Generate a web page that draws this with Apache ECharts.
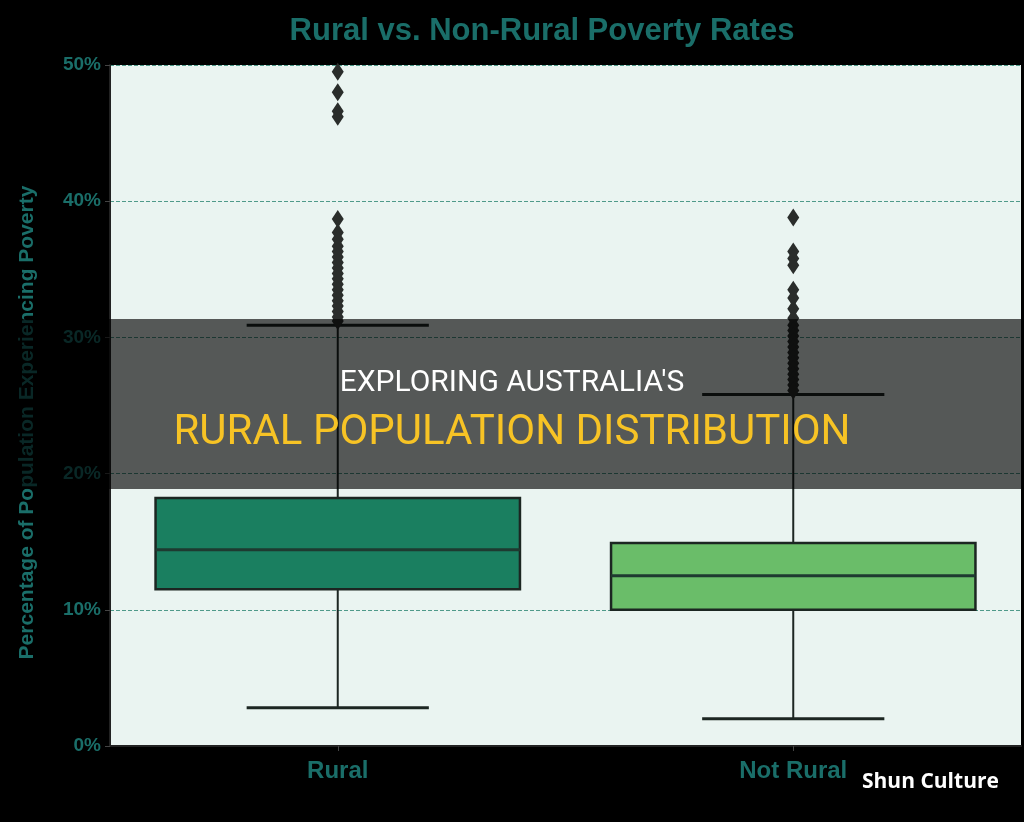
<!DOCTYPE html>
<html>
<head>
<meta charset="utf-8">
<script src="https://cdn.jsdelivr.net/npm/echarts@6/dist/echarts.min.js"></script>
<style>
html,body{margin:0;padding:0;background:#000;}
#chart{width:1024px;height:822px;}
</style>
</head>
<body>
<div id="chart"></div>
<script>
var categories = ['Rural', 'Not Rural'];
// [lowWhisker, Q1, median, Q3, highWhisker]
var ruralStats = [2.8, 11.5, 14.4, 18.2, 30.9];
var notRuralStats = [2.0, 10.0, 12.5, 14.9, 25.8];
var ruralOutliers = [49.5, 48.0, 46.6, 46.2, 38.7, 37.7, 37.2, 36.7, 36.3, 35.9, 35.5, 35.1, 34.7, 34.3, 33.9, 33.5, 33.1, 32.7, 32.3, 31.9, 31.5, 31.2];
var notRuralOutliers = [38.8, 36.3, 35.8, 35.3, 33.5, 32.9, 32.1, 31.4, 30.9, 30.5, 30.1, 29.7, 29.3, 28.9, 28.5, 28.1, 27.7, 27.3, 26.9, 26.5, 26.1];
var yTicks = [0, 10, 20, 30, 40, 50];
var boxColors = ['#1a7f60', '#6abd69'];

var boxData = [[0].concat(ruralStats), [1].concat(notRuralStats)];
var outlierData = [];
ruralOutliers.forEach(function(v){ outlierData.push([0, v]); });
notRuralOutliers.forEach(function(v){ outlierData.push([1, v]); });

var teal = '#1a6e69';
var chart = echarts.init(document.getElementById('chart'));
chart.setOption({
  backgroundColor: '#000',
  animation: false,
  title: {
    text: 'Rural vs. Non-Rural Poverty Rates',
    left: 537, top: 11, textAlign: 'center',
    textStyle: {color: teal, fontSize: 31, fontWeight: 900, fontFamily: 'Liberation Sans'}
  },
  grid: {left: 110, right: 3, top: 65, bottom: 76, show: true, backgroundColor: '#eaf4f1', borderWidth: 0},
  xAxis: {
    type: 'category', data: categories,
    axisLine: {lineStyle: {color: '#222', width: 2}},
    axisTick: {show: true, alignWithLabel: true, length: 5, lineStyle: {color: '#444'}},
    axisLabel: {color: teal, fontSize: 24, fontWeight: 'bold', fontFamily: 'Liberation Sans', margin: 13},
    splitLine: {show: false}
  },
  yAxis: {
    type: 'value', min: yTicks[0], max: yTicks[yTicks.length-1], interval: 10,
    name: 'Percentage of Population Experiencing Poverty',
    nameLocation: 'middle', nameGap: 72, nameRotate: 90,
    nameTextStyle: {color: teal, fontSize: 21, fontWeight: 'bold', fontFamily: 'Liberation Sans', padding: [0, 34, 0, 0]},
    axisLine: {show: true, lineStyle: {color: '#222', width: 2}},
    axisTick: {show: true, length: 5, lineStyle: {color: '#444'}},
    axisLabel: {color: teal, fontSize: 19, fontWeight: 'bold', fontFamily: 'Liberation Sans', margin: 9,
      formatter: function(v){ return v + '%'; }},
    splitLine: {show: true, lineStyle: {color: '#4f9a8a', type: 'dashed', width: 1}}
  },
  series: [
    {
      type: 'custom',
      data: boxData,
      z: 3,
      renderItem: function(params, api){
        var idx = api.value(0);
        var lo = api.coord([idx, api.value(1)]);
        var q1 = api.coord([idx, api.value(2)]);
        var med = api.coord([idx, api.value(3)]);
        var q3 = api.coord([idx, api.value(4)]);
        var hi = api.coord([idx, api.value(5)]);
        var band = api.size([1, 0])[0];
        var bw = band * 0.8, cw = band * 0.4;
        var cx = lo[0];
        var stroke = '#1c2622';
        return {
          type: 'group',
          children: [
            {type: 'line', shape: {x1: cx, y1: q3[1], x2: cx, y2: hi[1]}, style: {stroke: stroke, lineWidth: 2}},
            {type: 'line', shape: {x1: cx, y1: q1[1], x2: cx, y2: lo[1]}, style: {stroke: stroke, lineWidth: 2}},
            {type: 'line', shape: {x1: cx - cw/2, y1: hi[1], x2: cx + cw/2, y2: hi[1]}, style: {stroke: stroke, lineWidth: 3}},
            {type: 'line', shape: {x1: cx - cw/2, y1: lo[1], x2: cx + cw/2, y2: lo[1]}, style: {stroke: stroke, lineWidth: 3}},
            {type: 'rect', shape: {x: cx - bw/2, y: q3[1], width: bw, height: q1[1] - q3[1]},
              style: {fill: boxColors[idx], stroke: stroke, lineWidth: 2.5}},
            {type: 'line', shape: {x1: cx - bw/2, y1: med[1], x2: cx + bw/2, y2: med[1]}, style: {stroke: '#1e3a30', lineWidth: 3}}
          ]
        };
      }
    },
    {
      type: 'scatter',
      data: outlierData,
      symbol: 'diamond',
      symbolSize: [12, 18],
      z: 4,
      itemStyle: {color: '#2a2d2b', opacity: 1}
    }
  ],
  graphic: [
    {type: 'rect', left: 0, top: 319, z: 100, shape: {width: 1024, height: 170}, style: {fill: 'rgba(0,0,0,0.64)'}},
    {type: 'text', z: 101, left: 'center', top: 368, style: {text: "EXPLORING AUSTRALIA'S", fill: '#ffffff', font: '30px Roboto, sans-serif'}},
    {type: 'text', z: 101, left: 'center', top: 412, style: {text: 'RURAL POPULATION DISTRIBUTION', fill: '#f7c325', font: '42px Roboto, sans-serif'}},
    {type: 'text', z: 101, left: 862, top: 772, style: {text: 'Shun Culture', fill: '#ffffff', font: 'bold 21px "Open Sans", sans-serif'}}
  ]
});
</script>
</body>
</html>
